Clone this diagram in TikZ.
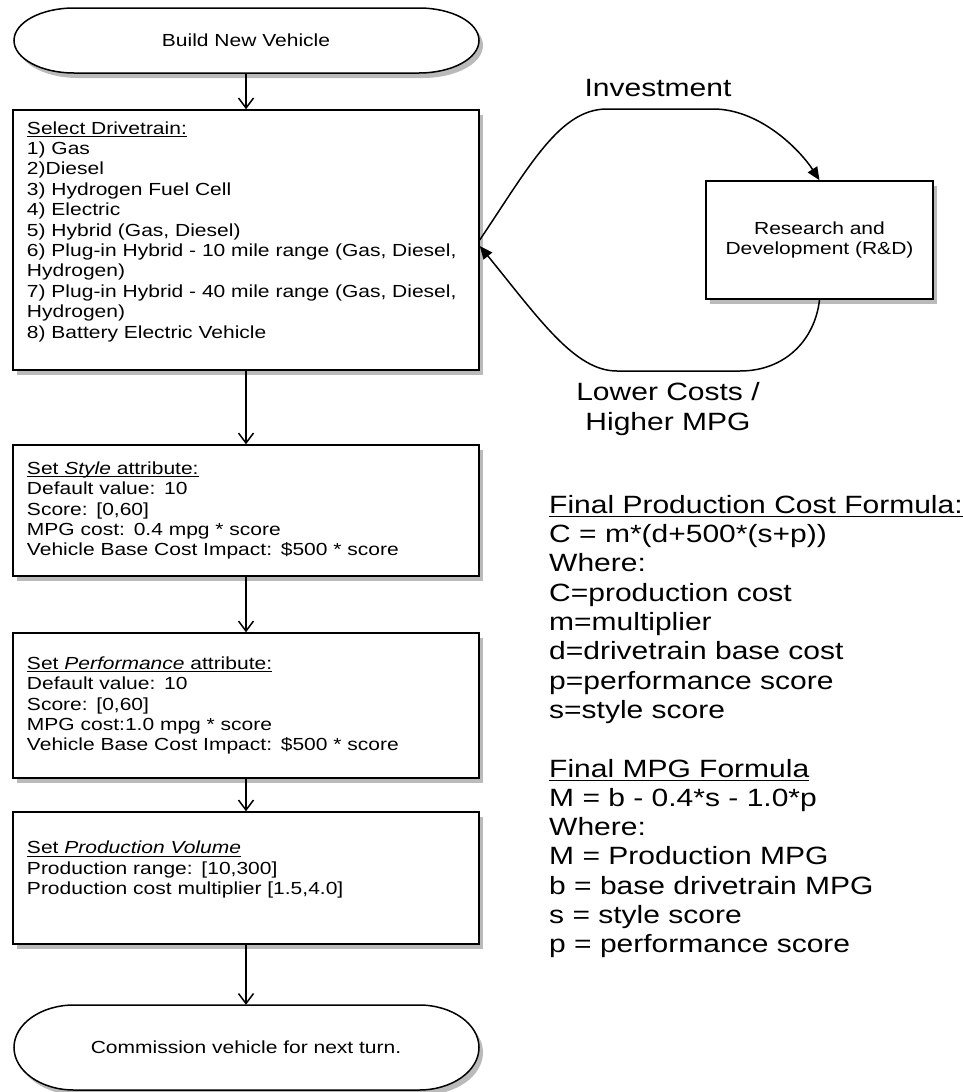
\documentclass[tikz,border=0pt]{standalone}
\usepackage{fontspec}
\setmainfont{Liberation Sans}[FakeStretch=1.2]
\usetikzlibrary{positioning,arrows.meta,shadows}

\newcommand{\boxfont}{\fontsize{17.5pt}{20.4pt}\selectfont}
\newcommand{\bigfont}{\fontsize{25pt}{29.3pt}\selectfont}
\newcommand{\uln}[2][3pt]{\setbox0\hbox{#2}\rlap{\rule[-#1]{\wd0}{1.1pt}}\box0}

\tikzset{
  softshadow/.style={drop shadow={shadow xshift=4pt, shadow yshift=-5pt, fill=black!60, opacity=0.45}},
  stepbox/.style={draw, line width=1.5pt, fill=white, text width=438pt, inner xsep=14pt, inner ysep=0pt, align=left, font=\boxfont, softshadow},
  termbox/.style={minimum width=345pt, inner sep=0pt, font=\boxfont},
  termline/.style={draw, line width=1.5pt, fill=white, softshadow},
  flow/.style={-{Straight Barb[length=10pt,width=15pt]}, line width=1.5pt},
  loop/.style={-{Triangle[length=13pt,width=11pt]}, line width=1.5pt},
}

\begin{document}
\begin{tikzpicture}[x=1pt, y=-1pt]
\useasboundingbox (0,0) rectangle (963,1092);

% terminator outlines
\draw[termline] (74,8) -- (419,8)
  arc[start angle=90, end angle=-90, x radius=60pt, y radius=32.5pt] -- (74,73)
  arc[start angle=270, end angle=90, x radius=60pt, y radius=32.5pt] -- cycle;
\draw[termline] (74,1005) -- (419,1005)
  arc[start angle=90, end angle=-90, x radius=60pt, y radius=42.5pt] -- (74,1090)
  arc[start angle=270, end angle=90, x radius=60pt, y radius=42.5pt] -- cycle;

% main flow
\node[termbox, minimum height=65pt] (start) at (246,40.5) {Build New Vehicle};
\node[stepbox, minimum height=260pt] (drive) at (246,240) {\uln{Select Drivetrain:}\\
1) Gas\\
2)Diesel\\
3) Hydrogen Fuel Cell\\
4) Electric\\
5) Hybrid (Gas, Diesel)\\
6) Plug-in Hybrid - 10 mile range (Gas, Diesel,\\
Hydrogen)\\
7) Plug-in Hybrid - 40 mile range (Gas, Diesel,\\
Hydrogen)\\
8) Battery Electric Vehicle\\
\mbox{}};
\node[stepbox, minimum height=131pt] (style) at (246,510.5) {\uln{Set \textit{Style} attribute:}\\
Default value: 10\\
Score: [0,60]\\
MPG cost: 0.4 mpg * score\\
Vehicle Base Cost Impact: \$500 * score};
\node[stepbox, minimum height=145pt] (perf) at (246,705.5) {\uln{Set \textit{Performance} attribute:}\\
Default value: 10\\
Score: [0,60]\\
MPG cost:1.0 mpg * score\\
Vehicle Base Cost Impact: \$500 * score};
\node[stepbox, minimum height=132pt] (volume) at (246,878) {\uln{Set \textit{Production Volume}}\\
Production range: [10,300]\\
Production cost multiplier [1.5,4.0]\\
\mbox{}};
\node[termbox, minimum height=85pt] (finish) at (246,1047.5) {Commission vehicle for next turn.};

\draw[flow] (start) -- (drive);
\draw[flow] (drive) -- (style);
\draw[flow] (style) -- (perf);
\draw[flow] (perf) -- (volume);
\draw[flow] (volume) -- (finish);

% R&D loop
\node[stepbox, text width=199pt, align=center, minimum height=118pt] (rd) at (819.5,240) {Research and\\Development (R\&D)};
\draw[loop] (drive.east) .. controls (530,165) and (560,109) .. (607,109) -- (713,109)
  .. controls (760,109) and (800,150) .. (rd.north);
\draw[loop] (rd.south) .. controls (815,340) and (785,371) .. (740,371) -- (617,371)
  .. controls (575,371) and (540,320) .. ([yshift=-6pt]drive.east);
\node[font=\bigfont] (invest) at (658,88) {Investment};
\node[font=\bigfont, align=center] (gain) at (668,409) {Lower Costs /\\Higher MPG};

% formulas
\node[font=\bigfont, align=left, anchor=north west, inner sep=0pt] (formula) at (549,495) {\uln[4pt]{Final Production Cost Formula:}\\
C = m*(d+500*(s+p))\\
Where:\\
C=production cost\\
m=multiplier\\
d=drivetrain base cost\\
p=performance score\\
s=style score\\[29.3pt]
\uln[4pt]{Final MPG Formula}\\
M = b - 0.4*s - 1.0*p\\
Where:\\
M = Production MPG\\
b = base drivetrain MPG\\
s = style score\\
p = performance score};
\end{tikzpicture}
\end{document}
